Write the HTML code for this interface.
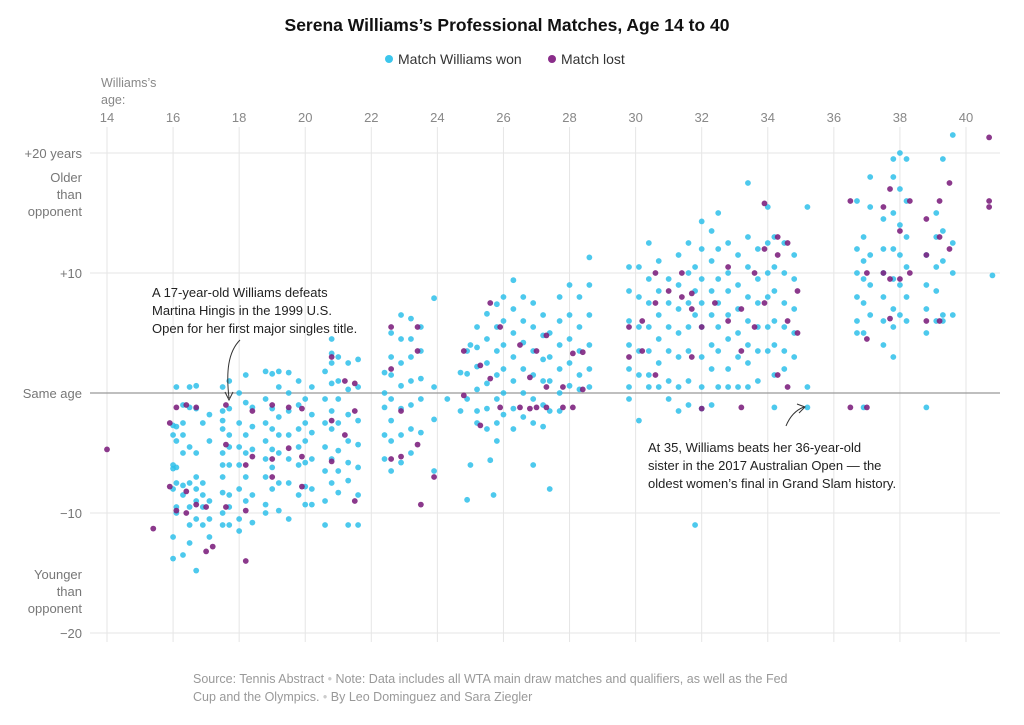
<!DOCTYPE html>
<html><head><meta charset="utf-8">
<style>
html,body{margin:0;padding:0;background:#fff;}
body{width:1024px;height:720px;overflow:hidden;font-family:"Liberation Sans",sans-serif;}
svg text{font-family:"Liberation Sans",sans-serif;}
</style></head>
<body>
<svg id="chart" width="1024" height="720" viewBox="0 0 1024 720" xmlns="http://www.w3.org/2000/svg">
<text x="507" y="31" text-anchor="middle" font-size="17.5" font-weight="bold" fill="#111">Serena Williams’s Professional Matches, Age 14 to 40</text>
<g>
<circle cx="389" cy="59" r="4" fill="#3cc6ec"/>
<text x="398" y="64" font-size="14" fill="#333">Match Williams won</text>
<circle cx="552" cy="59" r="4" fill="#8a2d8a"/>
<text x="561" y="64" font-size="14" fill="#333">Match lost</text>
</g>
<text font-size="12.5" fill="#888"><tspan x="101" y="87">Williams’s</tspan><tspan x="101" y="104">age:</tspan></text>
<g id="grid"></g>
<g id="dots"></g>
<g>
<text font-size="13" fill="#222"><tspan x="152" y="297">A 17-year-old Williams defeats</tspan><tspan x="152" y="315">Martina Hingis in the 1999 U.S.</tspan><tspan x="152" y="333">Open for her first major singles title.</tspan></text>
<path d="M240,340 C228,352 226,372 229,398" fill="none" stroke="#333" stroke-width="1"/>
<path d="M225,392 L229,400 L233,392" fill="none" stroke="#333" stroke-width="1"/>
</g>
<g>
<text font-size="13" fill="#222"><tspan x="648" y="452">At 35, Williams beats her 36-year-old</tspan><tspan x="648" y="470">sister in the 2017 Australian Open — the</tspan><tspan x="648" y="488">oldest women’s final in Grand Slam history.</tspan></text>
<path d="M786,426 C790,416 796,410 804,407" fill="none" stroke="#333" stroke-width="1"/>
<path d="M797,404 L805,407 L799,413" fill="none" stroke="#333" stroke-width="1"/>
</g>
<text font-size="12.5" fill="#999"><tspan x="193" y="683">Source: Tennis Abstract  <tspan fill="#ccc">•</tspan>  Note: Data includes all WTA main draw matches and qualifiers, as well as the Fed</tspan><tspan x="193" y="701">Cup and the Olympics.  <tspan fill="#ccc">•</tspan>  By Leo Dominguez and Sara Ziegler</tspan></text>
</svg>
<script>
const xTicks=[14,16,18,20,22,24,26,28,30,32,34,36,38,40];
const yTicks=[20,10,0,-10,-20];
const yTickLabels=["+20 years","+10","Same age","\u221210","\u221220"];
// [age, [age differences...]]
const wonGroups=[
[16.0,[-2.7,-3.5,-6,-6.3,-8,-12,-13.8]],[16.1,[0.5,-2.8,-4,-6.2,-7.5,-9.5,-10]],[16.3,[-1,-2.5,-3.5,-5,-7.7,-8.5,-13.5]],
[16.5,[0.5,-1.2,-4.5,-7.5,-9.5,-11,-12.5]],[16.7,[0.6,-1.3,-5,-7,-8,-9,-10.5,-14.8]],[16.9,[-2.5,-7.5,-8.5,-9.5,-11]],
[17.1,[-1.8,-4,-9,-10.5,-12]],[17.5,[0.5,-1.5,-2.3,-3,-5,-6,-7,-8.3,-10,-11]],[17.7,[1,-1.3,-3.5,-4.5,-6,-8.5,-9.5,-11]],
[18.0,[0,-2.5,-4.5,-6,-8,-10.5,-11.5]],[18.2,[1.5,-0.8,-3.5,-5,-7,-9]],[18.4,[-1.2,-2.8,-4.7,-8.5,-10.8]],
[18.8,[1.8,-0.5,-2.5,-4,-5.5,-7,-9.3,-10]],[19.0,[1.6,-1.3,-3,-4.7,-6.2,-8]],[19.2,[1.8,0.5,-2,-3.5,-5,-7.5,-9.8]],
[19.5,[1.7,0,-1.5,-3.5,-5.5,-7.5,-10.5]],[19.8,[1,-1,-3,-4.5,-6,-8.5]],[20.0,[-0.5,-2.5,-4,-5.8,-7.8,-9.3]],
[20.2,[0.5,-1.8,-3.3,-5.5,-8,-9.3]],[20.6,[1.8,-0.5,-2.5,-4.5,-6.5,-9,-11]],[20.8,[4.5,3.3,2.5,0.8,-1.5,-3,-5.5,-7.5]],
[21.0,[3,1,-0.5,-2.5,-4.8,-6.5,-8.3]],[21.3,[2.5,0.3,-1.8,-4,-5.8,-7.3,-11]],[21.6,[2.8,0.5,-2.3,-4.3,-6.2,-8.5,-11]],
[22.4,[1.7,0,-1.2,-3.5,-5.5]],[22.6,[5,3,1.5,-0.5,-2.3,-4,-6.5]],[22.9,[6.5,4.5,2.5,0.6,-1.3,-3.5,-5.8]],
[23.2,[6.2,4.5,3,1,-1,-3,-5]],[23.5,[5.5,3.5,1.2,-0.5,-3.3]],[23.9,[0.5,-2.2,-6.5,7.9]],[24.3,[-0.5]],
[24.7,[-1.5,1.7]],[24.9,[3.5,1.6,-0.5,-8.9]],[25.0,[4,-6]],
[25.2,[5.5,3.8,2.2,0.3,-1.5,-2.5]],[25.5,[6.6,4.5,2.5,0.8,-1.3,-3]],[25.6,[-5.6]],[25.7,[-8.5]],
[25.8,[7.4,5.5,3.5,1.5,-0.5,-2.5,-4]],[26.0,[8,6,4,2,0,-1.8]],[26.3,[9.4,7,5,3,1,-1.3,-3]],
[26.6,[8,6,4.2,2,0,-2]],[26.9,[7.5,5.5,3.5,1.5,-0.5,-2.5,-6]],[27.2,[6.5,4.8,2.8,1,-1,-2.8]],[27.4,[5,3,1,-1.5,-8]],
[27.7,[8,6,4,2,0,-1.5]],[28.0,[9,6.5,4.5,2.5,0.6]],[28.3,[8,5.5,3.5,1.5,0.3]],[28.6,[11.3,9,6.5,4,2,0.5]],
[29.8,[10.5,8.5,6,4,2,0.5,-0.5]],[30.1,[10.5,8,5.5,3.5,1.5,-2.3]],[30.4,[12.5,9.5,7.5,5.5,3.5,1.5,0.5]],
[30.7,[11,8.5,6.5,4.5,2.5,0.5]],[31.0,[9.5,7.5,5.5,3.5,1,-0.5]],[31.3,[11.5,9,7,5,3,0.5,-1.5]],
[31.6,[12.5,10,7.5,5.5,3.5,1,-1]],[31.8,[10.5,8.5,6.5,-11]],[32.0,[14.3,12,9.5,7.5,5.5,3,0.5,-1.3]],
[32.3,[13.5,11,8.5,6.5,4,2,-1]],[32.5,[15,12,9.5,7.5,5.5,3.5,0.5]],[32.8,[12.5,10,8.5,6.5,4.5,2,0.5]],
[33.1,[11.5,9,7,5,3,0.5]],[33.4,[17.5,13,10.5,8,6,4,2.5,0.5]],[33.7,[12,9.5,7.5,5.5,3.5,1]],
[34.0,[15.5,12.5,10,8,5.5,3.5]],[34.2,[13,10.5,8.5,6,4,1.5,-1.2]],[34.5,[12.5,10,7.5,5.5,3.5,2]],
[34.8,[11.5,9.5,7,5,3]],[35.2,[15.5,0.5,-1.2]],
[36.7,[16,12,10,8,6,5]],[36.9,[13,11,9.5,7.5,5,-1.2]],[37.1,[18,15.5,11.5,9,6.5]],
[37.5,[14.5,12,10,8,6,4]],[37.8,[19.5,18,15,12,9.5,7,5.5,3]],[38.0,[20,17,14,11.5,9,6.5]],[38.2,[19.5,16,13,10.5,8,6]],
[38.8,[11.5,9,7,5,-1.2]],[39.1,[15,13,10.5,8.5,6]],[39.3,[19.5,13.5,11,6.5,6]],[39.6,[21.5,12.5,10,6.5]],[40.8,[9.8]]
];
const lostGroups=[
[14.0,[-4.7]],[15.4,[-11.3]],[15.9,[-2.5,-7.8]],[16.1,[-9.8,-1.2]],[16.4,[-1,-8.2,-10]],[16.7,[-9.3,-1.2]],
[17.0,[-13.2,-9.5]],[17.2,[-12.8]],[17.6,[-1,-4.3,-9.5]],[18.2,[-6,-9.8,-14]],[18.4,[-1.5,-5.3]],
[19.0,[-1,-5.5,-7]],[19.5,[-1.2,-4.6]],[19.9,[-1.3,-5.3,-7.8]],[20.8,[3,-2.3,-5.7]],[21.2,[1,-3.5]],[21.5,[0.8,-1.5,-9]],
[22.6,[5.5,2,-5.5]],[22.9,[-1.5,-5.3]],[23.5,[-9.3]],[23.4,[5.5,3.5,-4.3]],[23.9,[-7]],[24.8,[-0.2,3.5]],
[25.3,[2.3,-2.7]],[25.6,[7.5,1.2]],[25.9,[5.5,-1.2]],[26.5,[4,-1.2]],[26.8,[1.3,-1.3]],[27.0,[3.5,-1.2]],
[27.3,[4.8,0.5,-1.2]],[27.8,[0.5,-1.2]],[28.1,[3.3,-1.2]],[28.4,[0.3,3.4]],[29.8,[5.5,3]],[30.2,[6,3.5]],
[30.6,[10,7.5,1.5]],[31.0,[8.5]],[31.4,[10,8]],[31.7,[7,8.3,3]],[32.0,[5.5,-1.3]],[32.4,[7.5]],
[32.8,[10.5,6]],[33.2,[7,3.5,-1.2]],[33.6,[10,5.5]],[33.9,[15.8,12,7.5]],[34.3,[13,11.5,1.5]],
[34.6,[12.5,6,0.5]],[34.9,[5,8.5]],[36.5,[16,-1.2]],[37.0,[10,4.5,-1.2]],[37.5,[10,15.5]],[37.7,[17,9.5,6.2]],
[38.0,[13.5,9.5]],[38.3,[16,10]],[38.8,[14.5,11.5,6]],[39.2,[16,13,6]],[39.5,[17.5,12]],[40.7,[16,21.3,15.5]]
];
const NS="http://www.w3.org/2000/svg";
function xs(a){return 107+(a-14)*(966-107)/26;}
function ys(d){return 393-d*12;}
const grid=document.getElementById('grid');
xTicks.forEach(t=>{
 const l=document.createElementNS(NS,'line');
 l.setAttribute('x1',xs(t));l.setAttribute('x2',xs(t));l.setAttribute('y1',127);l.setAttribute('y2',642);
 l.setAttribute('stroke','#e6e6e6');l.setAttribute('stroke-width','1');
 
 
 grid.appendChild(l);
 const tx=document.createElementNS(NS,'text');
 tx.setAttribute('x',xs(t));tx.setAttribute('y',122);tx.setAttribute('text-anchor','middle');
 tx.setAttribute('font-size','13');tx.setAttribute('fill','#888');tx.textContent=t;
 
 
 grid.appendChild(tx);
});
yTicks.forEach((t,i)=>{
 const l=document.createElementNS(NS,'line');
 l.setAttribute('x1',90);l.setAttribute('x2',1000);l.setAttribute('y1',ys(t));l.setAttribute('y2',ys(t));
 l.setAttribute('stroke',t===0?'#999':'#e6e6e6');l.setAttribute('stroke-width',t===0?'1.3':'1');
 
 
 grid.appendChild(l);
 const tx=document.createElementNS(NS,'text');
 tx.setAttribute('x',82);tx.setAttribute('y',ys(t)+5);tx.setAttribute('text-anchor','end');
 tx.setAttribute('font-size','13');tx.setAttribute('fill','#777');tx.textContent=yTickLabels[i];
 
 
 grid.appendChild(tx);
});
[["Older",182],["than",199],["opponent",216],["Younger",579],["than",596],["opponent",613]].forEach(p=>{
 const tx=document.createElementNS(NS,'text');
 tx.setAttribute('x',82);tx.setAttribute('y',p[1]);tx.setAttribute('text-anchor','end');
 tx.setAttribute('font-size','13');tx.setAttribute('fill','#777');tx.textContent=p[0];
 
 
 grid.appendChild(tx);
});
const dots=document.getElementById('dots');
function draw(groups,color,op,name){
 groups.forEach(g=>{g[1].forEach(d=>{
  const c=document.createElementNS(NS,'circle');
  c.setAttribute('cx',xs(g[0]));c.setAttribute('cy',ys(d));c.setAttribute('r',2.9);
  c.setAttribute('fill',color);c.setAttribute('fill-opacity',op);
  
  
  dots.appendChild(c);
 });});
}
draw(wonGroups,'#2ec0ea',0.85,'match-won-dot');
draw(lostGroups,'#7e2380',0.9,'match-lost-dot');
</script>
</body></html>
